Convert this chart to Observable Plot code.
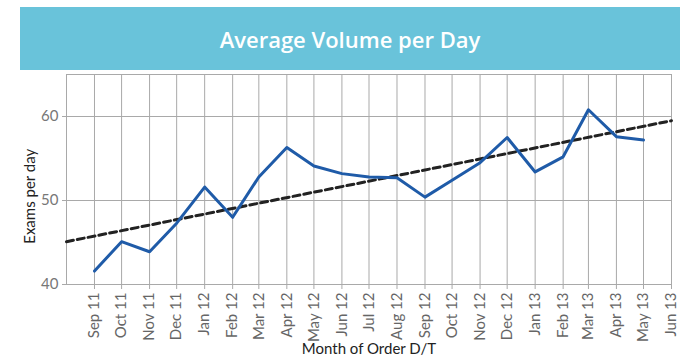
<!DOCTYPE html>
<html><head><meta charset="utf-8">
<script src="https://cdn.jsdelivr.net/npm/d3@7"></script>
<script src="https://cdn.jsdelivr.net/npm/@observablehq/plot@0.6"></script>
<style>
body{margin:0;background:#fff;width:700px;height:363px;overflow:hidden;font-family:Lato,sans-serif}
#title{margin:7px 20px 0 20px;height:63px;background:#69c3da;color:#fff;font-family:"Open Sans",sans-serif;font-weight:600;font-size:22px;display:flex;align-items:center;justify-content:center}
#chart svg{display:block}
</style></head><body>
<div id="title">Average Volume per Day</div>
<div id="chart"></div>
<script>
const months = ["2011-09","2011-10","2011-11","2011-12","2012-01","2012-02","2012-03","2012-04","2012-05","2012-06","2012-07","2012-08","2012-09","2012-10","2012-11","2012-12","2013-01","2013-02","2013-03","2013-04","2013-05"];
const exams = [41.6,45.1,43.9,47.3,51.6,48.0,52.8,56.3,54.1,53.2,52.8,52.7,50.4,52.4,54.5,57.5,53.4,55.2,60.8,57.6,57.2];
const gridMonths = ["2011-08","2011-09","2011-10","2011-11","2011-12","2012-01","2012-02","2012-03","2012-04","2012-05","2012-06","2012-07","2012-08","2012-09","2012-10","2012-11","2012-12","2013-01","2013-02","2013-03","2013-04","2013-05","2013-06"];
const tickMonths = gridMonths.slice(1);
const yTicks = [40,50,60];
const yFrameTop = 65;
const trendMonths = ["2011-08","2013-06"];
const trendValues = [45.1,59.5];

const parse = d3.utcParse("%Y-%m");
const data = months.map((m,i)=>({date:parse(m), v:exams[i]}));
const trend = trendMonths.map((m,i)=>({date:parse(m), v:trendValues[i]}));
const grid = gridMonths.map(parse);
const x0 = grid[0], x1 = grid[grid.length-1];
const gridCol = "#a9a9a9";

const chart = Plot.plot({
  width: 700, height: 293,
  marginLeft: 66, marginRight: 29, marginTop: 4, marginBottom: 79,
  style: {fontFamily: "Lato, sans-serif", background: "transparent"},
  x: {type: "utc", domain: [x0, x1]},
  y: {domain: [40, 65]},
  marks: [
    Plot.ruleX(grid, {x: d=>d, y1: 40, y2: yFrameTop, stroke: gridCol, strokeWidth: 1}),
    Plot.ruleY([...yTicks, yFrameTop], {y: d=>d, x1: x0, x2: x1, stroke: gridCol, strokeWidth: 1}),
    Plot.axisY({ticks: yTicks, tickSize: 4, tickPadding: 4, fontSize: 15, color: "#777", stroke: gridCol, label: null}),
    Plot.axisX({ticks: tickMonths.map(parse), tickFormat: d3.utcFormat("%b %y"), tickRotate: -90, tickSize: 5, tickPadding: 3, fontSize: 15, color: "#666", stroke: gridCol, label: null}),
    Plot.line(trend, {x: "date", y: "v", stroke: "#222", strokeWidth: 3, strokeDasharray: "7,4"}),
    Plot.line(data, {x: "date", y: "v", stroke: "#1f5ba8", strokeWidth: 3, strokeLinejoin: "round"}),
    Plot.text(["Exams per day"], {x: x0, y: 50.5, dx: -36, rotate: -90, fontSize: 15, fill: "#222"}),
    Plot.text(["Month of Order D/T"], {frameAnchor: "bottom", dy: 69, fontSize: 15, fill: "#222"})
  ]
});
document.getElementById("chart").appendChild(chart);
</script>
</body></html>
